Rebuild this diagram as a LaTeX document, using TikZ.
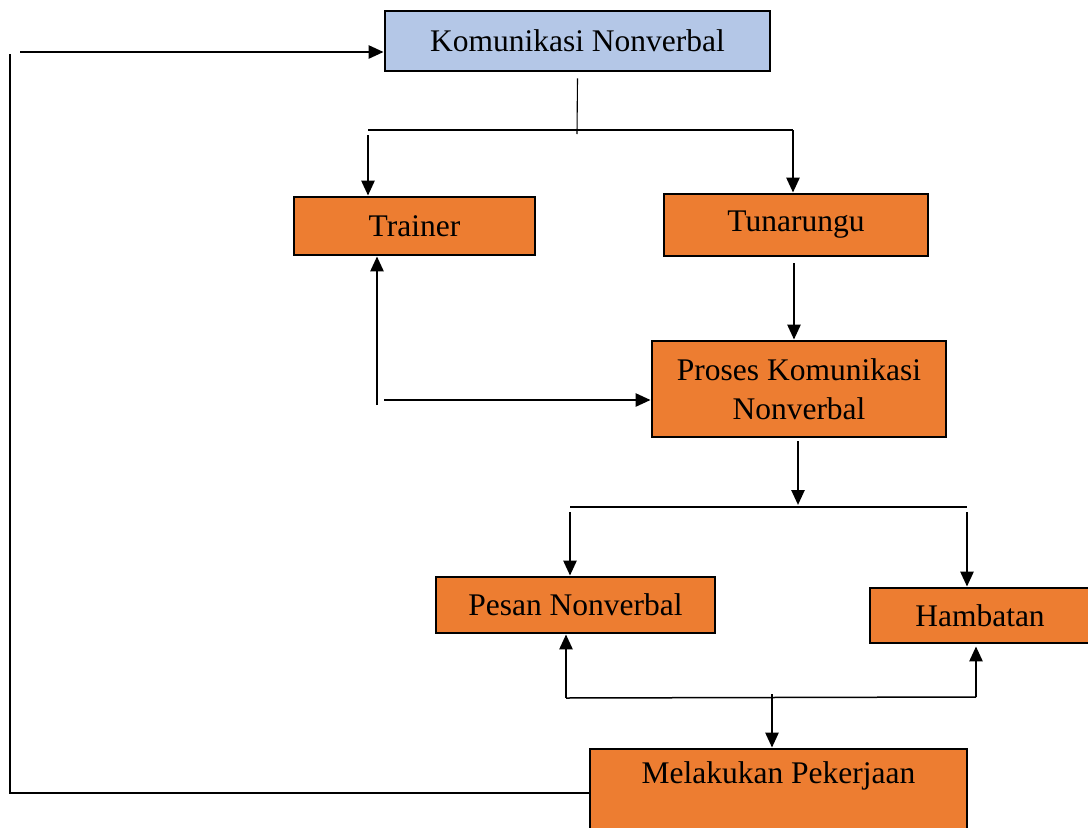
\documentclass[tikz,border=0pt]{standalone}
\usepackage{fontspec}
\setmainfont{Liberation Serif}
\usetikzlibrary{arrows.meta}
\definecolor{boxblue}{HTML}{B4C7E7}
\definecolor{boxorange}{HTML}{ED7D31}
\begin{document}
\begin{tikzpicture}[x=1pt,y=-1pt,
  box/.style={draw=black, line width=2.8pt, fill=boxorange, inner sep=0pt, align=center,
     font=\fontsize{31.5}{39}\selectfont},
  arr/.style={line width=2.6pt, -{Triangle[length=15pt,width=13pt]}},
  thin/.style={line width=1.1pt}]
\useasboundingbox (0,0) rectangle (1088,828);
\node[box, fill=boxblue, minimum width=385, minimum height=60] (top) at (577.5,41) {Komunikasi Nonverbal};
\node[box, minimum width=241, minimum height=58] (trainer) at (414.5,226) {Trainer};
\node[box, minimum width=264, minimum height=62] (tuna) at (796,225) {\raisebox{-3pt}{Tunarungu}};
\node[box, minimum width=294, minimum height=96] (proses) at (799,389) {Proses Komunikasi\\Nonverbal};
\node[box, minimum width=279, minimum height=56] (pesan) at (575.5,605) {Pesan Nonverbal};
\node[box, minimum width=220, minimum height=55] (hamb) at (980,615.5) {Hambatan};
\node[box, minimum width=377, minimum height=98] (melak) at (778.5,798) {Melakukan Pekerjaan\\ \strut};

% top split
\coordinate (j1) at (577,134);
\coordinate (j1l) at (368,130);
\coordinate (j1r) at (793,130);
\draw[thin] ([yshift=-6pt]top.south) -- (j1);
\draw[thin] (j1l) -- (j1r);
\draw[arr] ([yshift=-5pt]j1l) -- (trainer.north -| j1l);
\draw[arr] (j1r) -- (tuna.north -| j1r);

% tunarungu to proses
\draw[arr] ([yshift=-6pt]tuna.south -| 794,0) -- (proses.north -| 794,0);

% proses <-> trainer
\coordinate (t0) at (377,405);
\coordinate (t1) at (384,400);
\draw[arr] (t0) -- (trainer.south -| t0);
\draw[arr] (t1) -- (proses.west |- t1);

% proses split
\coordinate (j2) at (798,505);
\coordinate (j2l) at (570,507);
\coordinate (j2r) at (967,507);
\draw[arr] ([yshift=-3pt]proses.south -| j2) -- (j2);
\draw[thin] (j2l) -- (j2r);
\draw[arr] ([yshift=-5pt]j2l) -- (pesan.north -| j2l);
\draw[arr] ([yshift=-5pt]j2r) -- (hamb.north -| j2r);

% bottom join
\coordinate (b1) at (566,698);
\coordinate (b2) at (976,697);
\coordinate (b3) at (772,694);
\draw[line width=1.5pt] (b1) -- (b2);
\draw[arr] (b1) -- (pesan.south -| b1);
\draw[arr] (b2) -- ([yshift=-2pt]hamb.south -| b2);
\draw[arr] (b3) -- (melak.north -| b3);

% feedback loop
\coordinate (fl0) at (10,54);
\coordinate (fl1) at (10,793);
\coordinate (fa) at (20,52);
\draw[thin] (melak.west |- fl1) -- (fl1) -- (fl0);
\draw[arr] (fa) -- (top.west |- fa);
\end{tikzpicture}
\end{document}
